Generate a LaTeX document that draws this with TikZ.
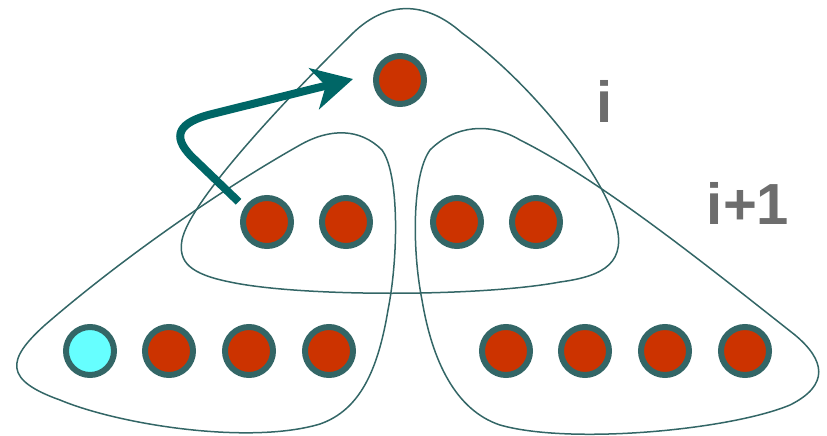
\documentclass[tikz,border=0pt]{standalone}
\usepackage{fontspec}
\setmainfont{Liberation Sans}
\usetikzlibrary{arrows.meta}
\definecolor{rim}{HTML}{336666}
\definecolor{ball}{HTML}{CC3300}
\definecolor{cyanball}{HTML}{66FFFF}
\definecolor{arr}{HTML}{006666}
\definecolor{lab}{HTML}{6D6D6D}
\tikzset{
  vtx/.style={circle, minimum size=48pt, inner sep=0pt, draw=rim, line width=6pt, fill=ball},
  leafc/.style={vtx, fill=cyanball},
  blob/.style={draw=rim, line width=1.5pt},
  bigarrow/.style={draw=arr, line width=8pt, line join=round,
     -{Stealth[length=40pt,width=42pt,inset=12pt]}},
  lbl/.style={text=lab, font=\bfseries\fontsize{58}{60}\selectfont, inner sep=0pt, anchor=base}
}
\begin{document}
\begin{tikzpicture}[x=1pt,y=-1pt]
\useasboundingbox (0,0) rectangle (827,436);
% big triangle (level i)
\draw[blob] (230,282) .. controls (190,274) and (178,262) .. (182,240)
  .. controls (190,200) and (290,95) .. (350,36)
  .. controls (385,0) and (425,0) .. (462,33)
  .. controls (530,82) and (600,170) .. (615,220)
  .. controls (628,262) and (605,276) .. (560,282)
  .. controls (480,297) and (300,297) .. (230,282) -- cycle;
% left subtree
\draw[blob] (300,145) .. controls (330,128) and (360,128) .. (382,150)
  .. controls (400,175) and (398,260) .. (388,310)
  .. controls (378,370) and (360,410) .. (320,424)
  .. controls (250,445) and (120,425) .. (60,400)
  .. controls (4,380) and (6,360) .. (45,325)
  .. controls (120,260) and (220,190) .. (300,145) -- cycle;
% right subtree
\draw[blob] (520,140) .. controls (490,122) and (455,125) .. (430,150)
  .. controls (412,175) and (412,250) .. (422,300)
  .. controls (432,360) and (455,410) .. (500,425)
  .. controls (570,445) and (730,430) .. (790,405)
  .. controls (830,385) and (825,360) .. (795,335)
  .. controls (700,260) and (600,180) .. (520,140) -- cycle;
% nodes
\node[vtx] (t) at (400,80) {};
\node[vtx] (m1) at (267,222) {};
\node[vtx] (m2) at (346,222) {};
\node[vtx] (m3) at (457,222) {};
\node[vtx] (m4) at (536,222) {};
\node[leafc] (b1) at (90,351) {};
\node[vtx] (b2) at (169,351) {};
\node[vtx] (b3) at (249,351) {};
\node[vtx] (b4) at (329,351) {};
\node[vtx] (b5) at (506,351) {};
\node[vtx] (b6) at (585,351) {};
\node[vtx] (b7) at (665,351) {};
\node[vtx] (b8) at (745,351) {};
% labels
\node[lbl] (li) at (605,122) {i};
\node[lbl] (lii) at (748,224) {i+1};
% arrow
\coordinate (tip) at ([xshift=-20pt,yshift=1pt]t.west);
\draw[bigarrow, shorten <=8pt] (m1.147) -- (192,157)
  .. controls (170,135) and (180,122) .. (212,114) -- (tip);
\end{tikzpicture}
\end{document}
